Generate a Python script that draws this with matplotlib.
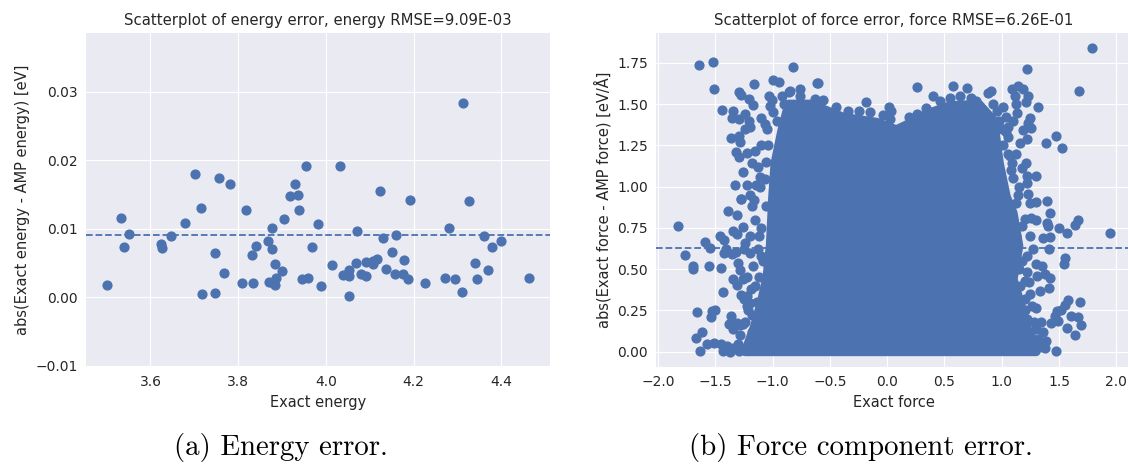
import matplotlib
matplotlib.use("Agg")
import matplotlib.pyplot as plt
import numpy as np

# energy panel: (exact energy, abs error)
energy_x = [3.501, 3.532, 3.540, 3.550, 3.623, 3.627, 3.647, 3.678, 3.702, 3.715,
            3.717, 3.747, 3.747, 3.757, 3.767, 3.782, 3.809, 3.818, 3.831, 3.835,
            3.841, 3.868, 3.878, 3.878, 3.883, 3.870, 3.879, 3.885, 3.887, 3.901,
            3.905, 3.919, 3.930, 3.936, 3.938, 3.954, 3.945, 3.959, 3.968, 3.983,
            3.990, 4.013, 4.033, 4.039, 4.052, 4.053, 4.052, 4.068, 4.070, 4.080,
            4.091, 4.091, 4.107, 4.107, 4.116, 4.123, 4.130, 4.137, 4.152, 4.160,
            4.158, 4.177, 4.187, 4.178, 4.193, 4.227, 4.272, 4.295, 4.281, 4.310,
            4.314, 4.327, 4.340, 4.344, 4.360, 4.369, 4.378, 4.399, 4.463]
energy_err = [0.0018, 0.0116, 0.0074, 0.0092, 0.0078, 0.0072, 0.0089, 0.0108, 0.0180, 0.0131,
              0.0005, 0.0064, 0.0006, 0.0174, 0.0035, 0.0166, 0.0020, 0.0128, 0.0061, 0.0020,
              0.0075, 0.0082, 0.0101, 0.0071, 0.0049, 0.0022, 0.0020, 0.0018, 0.0028, 0.0038,
              0.0114, 0.0148, 0.0166, 0.0149, 0.0128, 0.0192, 0.0026, 0.0028, 0.0073, 0.0107,
              0.0017, 0.0047, 0.0191, 0.0032, 0.0039, 0.0031, 0.0002, 0.0050, 0.0097, 0.0034,
              0.0031, 0.0052, 0.0048, 0.0053, 0.0056, 0.0155, 0.0087, 0.0041, 0.0066, 0.0091,
              0.0034, 0.0034, 0.0026, 0.0055, 0.0142, 0.0020, 0.0028, 0.0027, 0.0101, 0.0008,
              0.0284, 0.0140, 0.0050, 0.0027, 0.0089, 0.0039, 0.0073, 0.0082, 0.0028]
energy_rmse = 9.09e-03

# force panel: the bulk is a solid blob, kept as its outline (marker centres)
core_x = [-1.24, -1.16, -1.10, -1.05, -1.02, -1.00, -0.98, -0.92, -0.86, -0.67, -0.38,
          -0.09, 0.08, 0.20, 0.34, 0.55, 0.80, 0.93, 0.98, 1.04, 1.10, 1.15, 1.10,
          1.16, 1.22, 1.30]
core_y = [0.0, 0.15, 0.30, 0.45, 0.65, 0.94, 1.14, 1.34, 1.50, 1.50, 1.42,
          1.39, 1.345, 1.385, 1.44, 1.49, 1.50, 1.40, 1.14, 0.94, 0.84, 0.64, 0.44,
          0.30, 0.15, 0.0]

# scattered points outside the blob
left_x = [-1.639, -1.522, -1.514, -0.822, -1.162, -0.999, -0.947, -0.758, -0.613, -1.296,
          -1.278, -1.209, -1.168, -1.444, -1.343, -1.354, -1.290, -1.243, -1.208, -1.197,
          -1.238, -1.104, -1.066, -1.051, -1.029, -1.023, -1.005, -1.365, -1.296, -1.284,
          -1.319, -1.290, -1.226, -1.153, -1.182, -1.125, -1.037, -1.255, -1.328, -1.226,
          -1.145, -1.110, -1.278, -1.110, -1.066, -1.822, -1.764, -1.697, -1.691, -1.552,
          -1.452, -1.589, -1.546, -1.459, -1.424, -1.406, -1.424, -1.389, -1.313, -1.273,
          -1.348, -1.308, -1.255, -1.357, -1.319, -1.299, -1.284, -1.343, -1.308, -1.255,
          -1.435, -1.278, -1.226, -1.662, -1.531, -1.499, -1.540, -1.365, -1.377, -1.343,
          -1.308, -1.261, -1.212, -1.197, -1.613, -1.668, -1.633, -1.575, -1.511, -1.452,
          -1.400, -1.343, -1.290, -1.241, -1.435, -1.371,
          -1.18, -1.15, -1.20, -1.13, -1.17, -1.12, -1.19, -1.14, -1.18, -1.15,
          -1.10, -1.08, -1.25, -1.22, -1.28, -1.30,
          -1.20, -1.16, -1.06, -1.12, -1.24, -1.10, -1.20, -1.15, -1.22, -1.25,
          -1.18, -1.24, -1.20, -1.28, -1.06, -1.10, -0.96, -1.00, -0.92, -0.85]
left_y = [1.736, 1.756, 1.592, 1.724, 1.622, 1.644, 1.632, 1.593, 1.628, 1.571,
          1.557, 1.532, 1.492, 1.463, 1.455, 1.414, 1.408, 1.441, 1.400, 1.363,
          1.351, 1.414, 1.380, 1.347, 1.547, 1.485, 1.526, 1.296, 1.306, 1.272,
          1.211, 1.180, 1.201, 1.217, 1.140, 1.119, 1.252, 1.089, 1.007, 1.011,
          1.007, 0.997, 0.922, 1.058, 1.048, 0.759, 0.584, 0.519, 0.499, 0.519,
          0.505, 0.667, 0.627, 0.698, 0.678, 0.621, 0.596, 0.855, 0.830, 0.922,
          0.733, 0.712, 0.753, 0.590, 0.604, 0.539, 0.494, 0.438, 0.407, 0.438,
          0.360, 0.346, 0.336, 0.240, 0.248, 0.254, 0.210, 0.218, 0.169, 0.136,
          0.173, 0.169, 0.254, 0.295, 0.122, 0.085, 0.006, 0.047, 0.055, 0.045,
          0.037, 0.020, 0.006, 0.020, 0.006, 0.000,
          0.88, 0.80, 0.70, 0.62, 0.52, 0.45, 0.38, 0.30, 0.12, 0.06,
          0.75, 0.55, 0.62, 0.28, 0.10, 0.05,
          0.95, 0.92, 0.88, 0.70, 0.66, 0.58, 0.60, 0.40, 0.45, 0.32,
          0.22, 0.18, 0.05, 0.16, 1.15, 1.25, 1.40, 1.45, 1.55, 1.58]

right_x = [1.785, 1.224, 1.674, 1.093, 1.143, 1.186, 0.910, 0.881, 1.113, 1.230,
           1.215, 1.128, 1.317, 1.011, 1.035, 0.959, 1.137, 1.244, 1.230, 1.259,
           1.186, 1.055, 1.035, 1.471, 1.523, 1.384, 1.221, 1.163, 1.011, 1.070,
           1.128, 1.093, 1.215, 1.180, 1.296, 1.221, 1.151, 1.221, 1.230, 1.395,
           1.302, 1.942, 1.665, 1.636, 1.569, 1.500, 1.418, 1.395, 1.404, 1.244,
           1.200, 1.259, 1.360, 1.418, 1.413, 1.549, 1.543, 1.302, 1.308, 1.375,
           1.418, 1.413, 1.200, 1.331, 1.686, 1.578, 1.549, 1.520, 1.482, 1.462,
           1.608, 1.665, 1.695, 1.569, 1.636, 1.433, 1.491, 1.360, 1.390, 1.471,
           1.302, 1.346, 1.288, 1.375,
           1.10, 1.12, 1.25, 1.22, 1.27, 1.15, 1.25, 1.20, 1.28, 1.25,
           1.32, 1.05, 1.10, 0.98, 1.30, 1.35,
           1.18, 1.22, 1.16, 1.24, 1.20, 1.26, 1.22, 1.30, 1.18, 1.26,
           1.33, 1.12, 1.18, 1.14, 1.08, 1.00, 0.92, 1.05]
right_y = [1.838, 1.711, 1.581, 1.592, 1.608, 1.592, 1.577, 1.567, 1.547, 1.547,
           1.510, 1.502, 1.482, 1.482, 1.421, 1.455, 1.445, 1.414, 1.388, 1.357,
           1.343, 1.360, 1.333, 1.309, 1.235, 1.266, 1.286, 1.262, 1.252, 1.184,
           1.197, 1.144, 1.140, 1.115, 1.062, 1.062, 0.997, 1.021, 0.957, 0.910,
           0.905, 0.720, 0.800, 0.767, 0.722, 0.749, 0.841, 0.780, 0.763, 0.902,
           0.804, 0.808, 0.686, 0.692, 0.625, 0.570, 0.529, 0.529, 0.458, 0.468,
           0.448, 0.387, 0.427, 0.366, 0.299, 0.311, 0.285, 0.254, 0.244, 0.214,
           0.214, 0.210, 0.163, 0.147, 0.102, 0.173, 0.189, 0.122, 0.067, 0.006,
           0.265, 0.183, 0.051, 0.020,
           1.05, 0.90, 0.70, 0.58, 0.62, 0.50, 0.35, 0.25, 0.18, 0.10,
           0.08, 1.30, 1.40, 1.40, 0.80, 0.52,
           0.55, 0.48, 0.40, 0.42, 0.32, 0.28, 0.20, 0.14, 0.08, 0.04,
           0.03, 0.70, 0.76, 0.95, 1.10, 1.35, 1.50, 1.20]

top_x = [-0.602, 0.259, 0.570, 0.697, 0.398, -0.183, -0.447, -0.630, -0.558, -0.345,
         -0.244, -0.151, 0.012, 0.032, -0.035, 0.189, 0.262, 0.343, 0.024, 0.547,
         0.634, 0.730, 0.779, 0.459, -0.76, -0.86, -0.90]
top_y = [1.628, 1.604, 1.612, 1.600, 1.547, 1.512, 1.483, 1.532, 1.522, 1.455,
         1.455, 1.449, 1.479, 1.455, 1.435, 1.421, 1.441, 1.475, 1.408, 1.537,
         1.547, 1.537, 1.516, 1.516, 1.55, 1.57, 1.50]
force_rmse = 6.26e-01

BLUE = "#4C72B0"
TEXT = "#262626"
MS = 40  # marker area, pt^2

plt.style.use("seaborn-v0_8-darkgrid")
plt.rcParams.update({
    "font.family": ["DejaVu Sans"],
    "text.color": TEXT,
    "axes.labelcolor": TEXT,
    "xtick.color": TEXT,
    "ytick.color": TEXT,
    "xtick.labelsize": 10,
    "ytick.labelsize": 10,
})

fig = plt.figure(figsize=(11.28, 4.72), dpi=100)

# (a) energy
ax1 = fig.add_axes([0.0762, 0.2225, 0.4113, 0.7076])
ax1.axhline(energy_rmse, color=BLUE, ls="--", lw=1.3, zorder=1)
ax1.scatter(energy_x, energy_err, s=MS, color=BLUE, zorder=2)
ax1.set_ylim(-0.0102, 0.0386)
ax1.set_yticks([-0.01, 0.0, 0.01, 0.02, 0.03])
ax1.set_xticks([3.6, 3.8, 4.0, 4.2, 4.4])
ax1.set_title("Scatterplot of energy error, energy RMSE=9.09E-03", fontsize=10.7, pad=6)
ax1.set_xlabel("Exact energy", fontsize=10.5)
ax1.set_ylabel("abs(Exact energy - AMP energy) [eV]", fontsize=10.5)

# (b) force; axes runs slightly past the right figure edge like the original crop
ax2 = fig.add_axes([0.582, 0.2225, 0.4207, 0.7076])
ax2.axhline(force_rmse, color=BLUE, ls="--", lw=1.3, zorder=1)
ax2.fill(core_x, core_y, color=BLUE, lw=np.sqrt(MS), joinstyle="round", zorder=2)
for xs, ys in [(left_x, left_y), (right_x, right_y), (top_x, top_y)]:
    ax2.scatter(xs, ys, s=MS, color=BLUE, zorder=2)
ax2.set_xlim(-2.013, 2.128)
ax2.set_ylim(-0.092, 1.930)
ax2.set_xticks(np.arange(-2.0, 2.01, 0.5))
ax2.set_yticks(np.arange(0.0, 1.76, 0.25))
ax2.set_title("Scatterplot of force error, force RMSE=6.26E-01", fontsize=10.7, pad=6)
ax2.set_xlabel("Exact force", fontsize=10.5)
ax2.set_ylabel("abs(Exact force - AMP force) [eV/Å]", fontsize=10.5)

for ax in (ax1, ax2):
    ax.tick_params(length=0, pad=6)

# sub-figure captions in a Computer Modern look
fig.text(281 / 1128, 1 - 448 / 472, "(a) Energy error.", ha="center", va="center",
         fontsize=20.8, family="cmr10", color="black")
fig.text(861 / 1128, 1 - 448 / 472, "(b) Force component error.", ha="center", va="center",
         fontsize=20.8, family="cmr10", color="black")

fig.savefig("out.png", dpi=100)
